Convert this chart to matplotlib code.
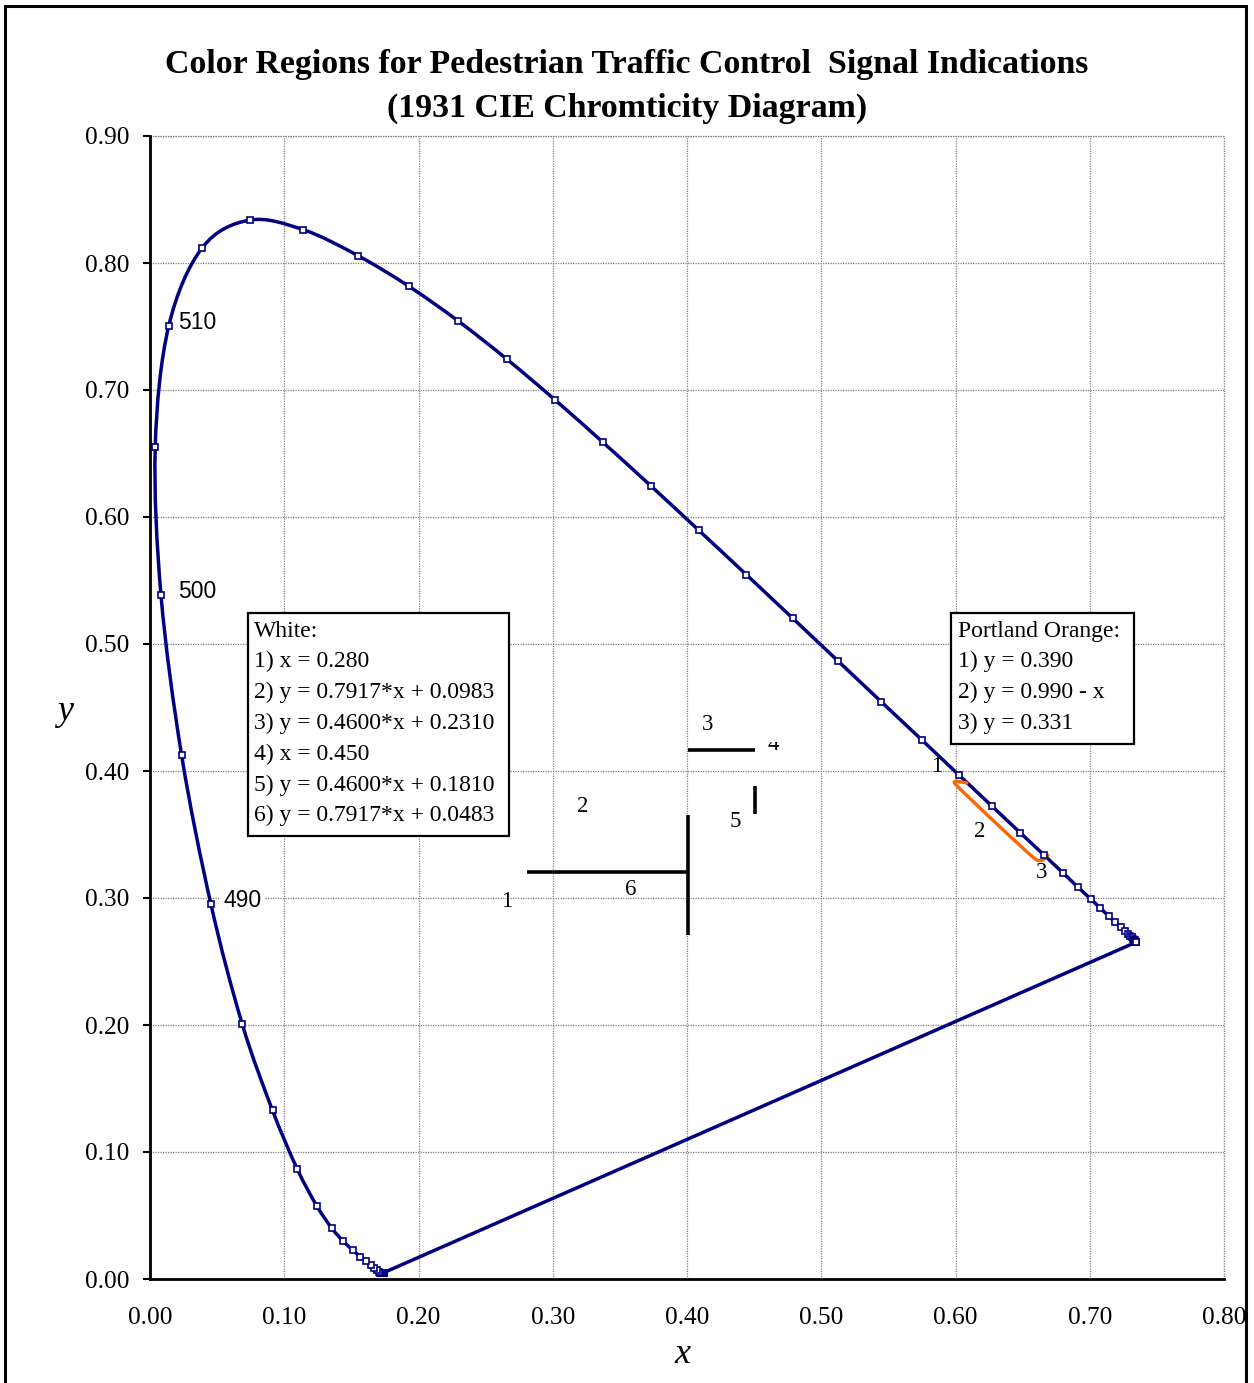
import matplotlib
matplotlib.use("Agg")
import matplotlib.pyplot as plt
from matplotlib.patches import Rectangle, PathPatch
from matplotlib.path import Path
from matplotlib.transforms import Bbox, TransformedBbox
import numpy as np

# CIE 1931 spectral locus, 380-700 nm every 5 nm
nm = list(range(380, 705, 5))
locus_x = [0.1741, 0.1740, 0.1738, 0.1736, 0.1733, 0.1730, 0.1726, 0.1721, 0.1714, 0.1703,
           0.1689, 0.1669, 0.1644, 0.1611, 0.1566, 0.1510, 0.1440, 0.1355, 0.1241, 0.1096,
           0.0913, 0.0687, 0.0454, 0.0235, 0.0082, 0.0039, 0.0139, 0.0389, 0.0743, 0.1142,
           0.1547, 0.1929, 0.2296, 0.2658, 0.3016, 0.3373, 0.3731, 0.4087, 0.4441, 0.4788,
           0.5125, 0.5448, 0.5752, 0.6029, 0.6270, 0.6482, 0.6658, 0.6801, 0.6915, 0.7006,
           0.7079, 0.7140, 0.7190, 0.7230, 0.7260, 0.7283, 0.7300, 0.7311, 0.7320, 0.7327,
           0.7334, 0.7340, 0.7344, 0.7346, 0.7347]
locus_y = [0.0050, 0.0050, 0.0049, 0.0049, 0.0048, 0.0048, 0.0048, 0.0048, 0.0051, 0.0058,
           0.0069, 0.0086, 0.0109, 0.0138, 0.0177, 0.0227, 0.0297, 0.0399, 0.0578, 0.0868,
           0.1327, 0.2007, 0.2950, 0.4127, 0.5384, 0.6548, 0.7502, 0.8120, 0.8338, 0.8262,
           0.8059, 0.7816, 0.7543, 0.7243, 0.6923, 0.6589, 0.6245, 0.5896, 0.5547, 0.5202,
           0.4866, 0.4544, 0.4242, 0.3965, 0.3725, 0.3514, 0.3340, 0.3197, 0.3083, 0.2993,
           0.2920, 0.2859, 0.2809, 0.2770, 0.2740, 0.2717, 0.2700, 0.2689, 0.2680, 0.2673,
           0.2666, 0.2660, 0.2656, 0.2654, 0.2653]

# wavelength labels
wl_labels = ["510", "500", "490"]
wl_x = [0.0209, 0.0209, 0.0544]
wl_y = [0.7528, 0.5410, 0.2984]

# white region boundary segments as drawn (x0, x1, y0, y1)
white_segs = [
    (0.281, 0.401, 0.3205, 0.3205),
    (0.401, 0.401, 0.3654, 0.2709),
    (0.401, 0.4506, 0.4165, 0.4165),
    (0.4506, 0.4506, 0.388, 0.366),
]
white_lbl = ["1", "2", "3", "4", "5", "6"]
white_lbl_x = [0.266, 0.3225, 0.415, 0.464, 0.4358, 0.3583]
white_lbl_y = [0.297, 0.3717, 0.437, 0.421, 0.3606, 0.3063]

# portland orange boundary
orange_x = [0.6085, 0.6000, 0.6590, 0.6690]
orange_y = [0.3905, 0.3895, 0.3310, 0.3335]
orange_lbl = ["1", "2", "3"]
orange_lbl_x = [0.5862, 0.6182, 0.6644]
orange_lbl_y = [0.4039, 0.3520, 0.3197]

white_text = ["White:", "1) x = 0.280", "2) y = 0.7917*x + 0.0983",
              "3) y = 0.4600*x + 0.2310", "4) x = 0.450",
              "5) y = 0.4600*x + 0.1810", "6) y = 0.7917*x + 0.0483"]
orange_text = ["Portland Orange:", "1) y = 0.390", "2) y = 0.990 - x", "3) y = 0.331"]

serif = "Liberation Serif"
sans = "Liberation Sans"
navy = "#000080"


def smooth_path(xs, ys, k=6.0):
    # excel-style smoothed line: cubic bezier through the points
    p = np.column_stack([xs, ys])
    n = len(p)
    verts = [p[0]]
    codes = [Path.MOVETO]
    for i in range(n - 1):
        p0 = p[max(i - 1, 0)]
        p3 = p[min(i + 2, n - 1)]
        c1 = p[i] + (p[i + 1] - p0) / k
        c2 = p[i + 1] - (p3 - p[i]) / k
        verts += [c1, c2, p[i + 1]]
        codes += [Path.CURVE4] * 3
    return Path(verts, codes)


fig = plt.figure(figsize=(12.54, 13.83), dpi=100)
ax = fig.add_axes([150/1254, 104/1383, 1074/1254, 1143/1383])

ax.set_xlim(0, 0.8)
ax.set_ylim(0, 0.9)
ax.set_xticks(np.arange(0, 0.81, 0.1))
ax.set_yticks(np.arange(0, 0.91, 0.1))
ax.set_xticklabels(["%.2f" % v for v in np.arange(0, 0.81, 0.1)], family=serif, fontsize=18.3)
ax.set_yticklabels(["%.2f" % v for v in np.arange(0, 0.91, 0.1)], family=serif, fontsize=18.3)
ax.tick_params(axis="x", length=0, pad=20)
ax.tick_params(axis="y", direction="out", length=5, width=1.5, pad=10)
ax.grid(True, color="#808080", linestyle=(0, (1, 1)), linewidth=0.9)
ax.set_axisbelow(True)
for s in ["top", "right"]:
    ax.spines[s].set_visible(False)
for s in ["left", "bottom"]:
    ax.spines[s].set_linewidth(2)
# dotted lines along top and right edges
ax.axhline(0.9, color="#808080", linestyle=(0, (1, 1)), linewidth=0.9, clip_on=False)
ax.axvline(0.8, color="#808080", linestyle=(0, (1, 1)), linewidth=0.9, clip_on=False)

# spectral locus (smoothed) and straight purple line closing it
ax.add_patch(PathPatch(smooth_path(locus_x, locus_y), facecolor="none", edgecolor=navy,
                       lw=2.5, zorder=3, joinstyle="round"))
ax.plot([locus_x[-1], locus_x[0]], [locus_y[-1], locus_y[0]], color=navy, lw=2.5, zorder=3)
ax.plot(locus_x, locus_y, linestyle="none", marker="s", markersize=5,
        markerfacecolor="white", markeredgecolor=navy, markeredgewidth=1.2, zorder=4)

for t, x, y in zip(wl_labels, wl_x, wl_y):
    kw = {}
    if t == "490":
        kw["bbox"] = dict(facecolor="white", edgecolor="none", pad=3)
    ax.text(x, y, t, family=sans, fontsize=16.5, ha="left", va="center", zorder=2, **kw)

for x0, x1, y0, y1 in white_segs:
    ax.plot([x0, x1], [y0, y1], color="black", lw=2.6, solid_capstyle="butt", zorder=3)
for t, x, y in zip(white_lbl, white_lbl_x, white_lbl_y):
    txt = ax.text(x, y, t, family=serif, fontsize=16.5, ha="center", va="center", zorder=3)
    if t == "4":
        # the "4" is cut off at the top in the original
        txt.set_clip_path(None)
        txt.set_clip_box(TransformedBbox(Bbox([[0.3, 0.0], [0.6, 0.4232]]), ax.transData))
        txt.set_clip_on(True)

ax.add_patch(PathPatch(smooth_path(orange_x, orange_y, k=12.0), facecolor="none",
                       edgecolor="#FF6600", lw=2.4, zorder=3, capstyle="round"))
for t, x, y in zip(orange_lbl, orange_lbl_x, orange_lbl_y):
    ax.text(x, y, t, family=serif, fontsize=16.5, ha="center", va="center", zorder=5)

# text boxes
ax.add_patch(Rectangle((0.073, 0.3488), 0.1944, 0.1756, facecolor="white",
                       edgecolor="black", lw=1.6, zorder=5))
step = 30.8 / 1270
for i, line in enumerate(white_text):
    ax.text(0.0775, 0.5102 - i * step, line, family=serif, fontsize=17, ha="left",
            va="center", zorder=6)
ax.add_patch(Rectangle((0.5966, 0.4213), 0.1364, 0.1031, facecolor="white",
                       edgecolor="black", lw=1.6, zorder=5))
for i, line in enumerate(orange_text):
    ax.text(0.6019, 0.5102 - i * step, line, family=serif, fontsize=17, ha="left",
            va="center", zorder=6)

ax.set_xlabel("x", family=serif, style="italic", fontsize=26)
ax.set_ylabel("y", family=serif, style="italic", fontsize=26, rotation=0)
ax.xaxis.set_label_coords(0.496, -0.052)
ax.yaxis.set_label_coords(-0.079, 0.482)

fig.text(0.5, 1 - 65/1383, "Color Regions for Pedestrian Traffic Control  Signal Indications",
         family=serif, weight="bold", fontsize=24.4, ha="center", va="center")
fig.text(0.5, 1 - 108/1383, "(1931 CIE Chromticity Diagram)",
         family=serif, weight="bold", fontsize=24.4, ha="center", va="center")

# outer frame
fig.patches.append(Rectangle((5/1254, -0.02), 1241/1254, 1.02 - 6/1383, transform=fig.transFigure,
                             fill=False, edgecolor="black", lw=2.2, zorder=10))

fig.savefig("out.png", dpi=100)
